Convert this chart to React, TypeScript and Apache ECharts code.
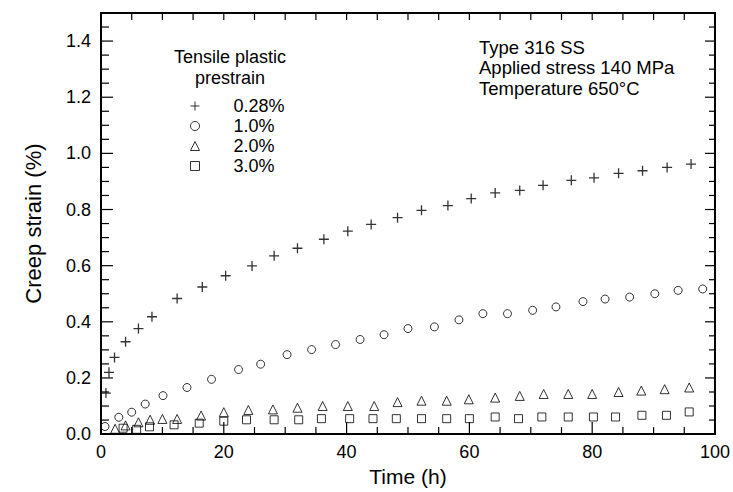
import React, { useEffect, useRef } from "react";
import * as echarts from "echarts";

const seriesNames = ["0.28%", "1.0%", "2.0%", "3.0%"];

const plusX = [0.8, 1.3, 2.2, 4.0, 6.1, 8.3, 12.4, 16.5, 20.3, 24.6, 28.2, 32.0, 36.3, 40.2, 44.0, 48.3, 52.2, 56.5, 60.3, 64.2, 68.2, 72.0, 76.6, 80.3, 84.3, 88.2, 92.2, 96.1];
const plusY = [0.146, 0.22, 0.273, 0.329, 0.376, 0.418, 0.483, 0.524, 0.564, 0.599, 0.635, 0.662, 0.694, 0.723, 0.747, 0.771, 0.797, 0.814, 0.839, 0.859, 0.868, 0.886, 0.904, 0.913, 0.929, 0.938, 0.95, 0.962];

const circleX = [0.65, 2.9, 5.0, 7.2, 10.1, 14.0, 18.0, 22.4, 26.0, 30.3, 34.3, 38.2, 42.2, 46.1, 50.0, 54.3, 58.3, 62.2, 66.2, 70.3, 74.1, 78.5, 82.1, 86.1, 90.2, 94.0, 98.0];
const circleY = [0.027, 0.06, 0.078, 0.107, 0.137, 0.166, 0.195, 0.23, 0.249, 0.283, 0.301, 0.319, 0.337, 0.354, 0.376, 0.382, 0.407, 0.429, 0.429, 0.441, 0.453, 0.472, 0.481, 0.488, 0.5, 0.512, 0.517];

const triX = [2.3, 4.0, 6.1, 8.0, 10.0, 12.4, 16.3, 20.0, 24.0, 28.0, 32.0, 36.1, 40.2, 44.5, 48.3, 52.2, 56.3, 59.9, 64.2, 68.2, 72.1, 76.1, 80.0, 84.3, 88.0, 91.8, 95.8];
const triY = [0.019, 0.031, 0.042, 0.051, 0.054, 0.054, 0.066, 0.078, 0.086, 0.088, 0.094, 0.1, 0.1, 0.1, 0.114, 0.119, 0.119, 0.124, 0.13, 0.136, 0.143, 0.143, 0.143, 0.15, 0.155, 0.16, 0.166];

const sqX = [3.6, 5.8, 7.9, 11.9, 16.0, 20.0, 23.7, 28.2, 32.2, 35.9, 40.5, 44.3, 48.1, 52.2, 56.3, 60.0, 64.2, 68.0, 71.8, 76.1, 80.2, 83.8, 88.1, 92.1, 95.8];
const sqY = [0.021, 0.017, 0.026, 0.033, 0.039, 0.046, 0.051, 0.051, 0.051, 0.055, 0.055, 0.055, 0.055, 0.055, 0.055, 0.055, 0.061, 0.055, 0.061, 0.061, 0.061, 0.061, 0.067, 0.067, 0.079];

// axis tick positions (data units)
const xMajorTicks = [0, 20, 40, 60, 80, 100];
const xMinorTicks = [5, 10, 15, 25, 30, 35, 45, 50, 55, 65, 70, 75, 85, 90, 95];
const yMajorTicks = [0, 0.2, 0.4, 0.6, 0.8, 1.0, 1.2, 1.4];
const yMinorTicks = [0.05, 0.1, 0.15, 0.25, 0.3, 0.35, 0.45, 0.5, 0.55, 0.65, 0.7, 0.75, 0.85, 0.9, 0.95, 1.05, 1.1, 1.15, 1.25, 1.3, 1.35, 1.45];
const X_MIN = 0;
const X_MAX = 100;
const Y_MIN = 0;
const Y_MAX = 1.5;

const legendTitle = "Tensile plastic\nprestrain";
const annotation = "Type 316 SS\nApplied stress 140 MPa\nTemperature 650°C";
const xTitle = "Time (h)";
const yTitle = "Creep strain (%)";

const FONT = "'Liberation Sans', Arial, Helvetica, sans-serif";

function zip(xs: number[], ys: number[]) {
  return xs.map((x, i) => [x, ys[i]]);
}

export default function App() {
  const ref = useRef<HTMLDivElement>(null);
  useEffect(() => {
    if (!ref.current) return;
    const chart = echarts.init(ref.current, undefined, { renderer: "svg" });
    const black = "#000";
    const markerStyle = { color: "transparent", borderColor: black, borderWidth: 1 };
    const symbols = ["path://M5 0 L5 10 M0 5 L10 5", "circle", "triangle", "rect"];
    const sizes = [10, 8, 9, 8];
    const datas = [zip(plusX, plusY), zip(circleX, circleY), zip(triX, triY), zip(sqX, sqY)];
    const line = { show: true, onZero: false, lineStyle: { color: black, width: 2 } };

    const frameRender = (params: any, api: any) => {
      if (params.dataIndex !== 0) return null;
      const children: any[] = [];
      const seg = (x1: number, y1: number, x2: number, y2: number, w: number) =>
        children.push({
          type: "line",
          shape: { x1, y1, x2, y2 },
          style: { stroke: black, lineWidth: w },
          silent: true,
        });
      const bl = api.coord([X_MIN, Y_MIN]);
      const tr = api.coord([X_MAX, Y_MAX]);
      const left = bl[0];
      const bottom = bl[1];
      const right = tr[0];
      const top = tr[1];
      // frame
      seg(left - 1, top, right + 1, top, 2);
      seg(right, top - 1, right, bottom + 1, 2);
      seg(left, top - 1, left, bottom + 1, 2);
      seg(left - 1, bottom, right + 1, bottom, 2);
      // bottom & top ticks
      xMajorTicks.forEach((v) => {
        const px = api.coord([v, Y_MIN])[0];
        seg(px, bottom, px, bottom - 12, 1.2);
        seg(px, top, px, top + 7, 1.2);
      });
      xMinorTicks.forEach((v) => {
        const px = api.coord([v, Y_MIN])[0];
        seg(px, bottom, px, bottom - 7, 1.2);
        seg(px, top, px, top + 7, 1.2);
      });
      // left & right ticks
      yMajorTicks.forEach((v) => {
        const py = api.coord([X_MIN, v])[1];
        seg(left, py, left + 12, py, 1.2);
        seg(right, py, right - 10, py, 1.2);
      });
      yMinorTicks.forEach((v) => {
        const py = api.coord([X_MIN, v])[1];
        seg(left, py, left + 8, py, 1.2);
        seg(right, py, right - 6, py, 1.2);
      });
      return { type: "group", children };
    };

    chart.setOption({
      animation: false,
      textStyle: { fontFamily: FONT, color: black },
      grid: { left: 101, right: 17, top: 13, bottom: 55 },
      legend: {
        orient: "vertical",
        left: 185,
        top: 92,
        itemWidth: 9,
        itemHeight: 9,
        itemGap: 2,
        data: seriesNames,
        itemStyle: { borderWidth: 1 },
        textStyle: { fontSize: 18, color: black, fontFamily: FONT, padding: [0, 0, 0, 29] },
      },
      xAxis: {
        type: "value",
        position: "bottom",
        min: X_MIN,
        max: X_MAX,
        interval: 20,
        name: xTitle,
        nameLocation: "middle",
        nameGap: 31,
        nameTextStyle: { fontSize: 21, color: black, fontFamily: FONT },
        axisLine: line,
        axisTick: { show: false },
        axisLabel: { fontSize: 18, color: black, margin: 9, fontFamily: FONT },
        splitLine: { show: false },
      },
      yAxis: {
        type: "value",
        position: "left",
        min: Y_MIN,
        max: Y_MAX,
        interval: 0.2,
        name: yTitle,
        nameLocation: "middle",
        nameGap: 57,
        nameTextStyle: { fontSize: 22, color: black, fontFamily: FONT },
        axisLine: line,
        axisTick: { show: false },
        axisLabel: {
          fontSize: 18,
          color: black,
          margin: 10,
          fontFamily: FONT,
          showMaxLabel: false,
          formatter: (v: number) => (v > 1.45 ? "" : v.toFixed(1)),
        },
        splitLine: { show: false },
      },
      graphic: [
        {
          type: "text",
          x: 230,
          y: 46,
          style: {
            text: legendTitle,
            font: `18px ${FONT}`,
            fill: black,
            align: "center",
            verticalAlign: "top",
            lineHeight: 21,
          },
        },
        {
          type: "text",
          left: 479,
          top: 37,
          style: {
            text: annotation,
            font: `18.5px ${FONT}`,
            fill: black,
            lineHeight: 20.5,
          },
        },
      ],
      series: [
        ...datas.map((d, i) => ({
          type: "scatter",
          name: seriesNames[i],
          data: d,
          symbol: symbols[i],
          symbolSize: sizes[i],
          itemStyle: { ...markerStyle, borderWidth: i === 0 ? 1.3 : 1 },
          emphasis: { disabled: true },
        })),
        {
          type: "custom",
          name: "frame",
          silent: true,
          clip: false,
          data: [[X_MIN, Y_MIN]],
          renderItem: frameRender,
          z: 1,
        },
      ],
    });
    return () => chart.dispose();
  }, []);
  return (
    <div
      ref={ref}
      style={{ position: "fixed", left: 0, top: 0, width: 733, height: 492, background: "#fff" }}
    />
  );
}
